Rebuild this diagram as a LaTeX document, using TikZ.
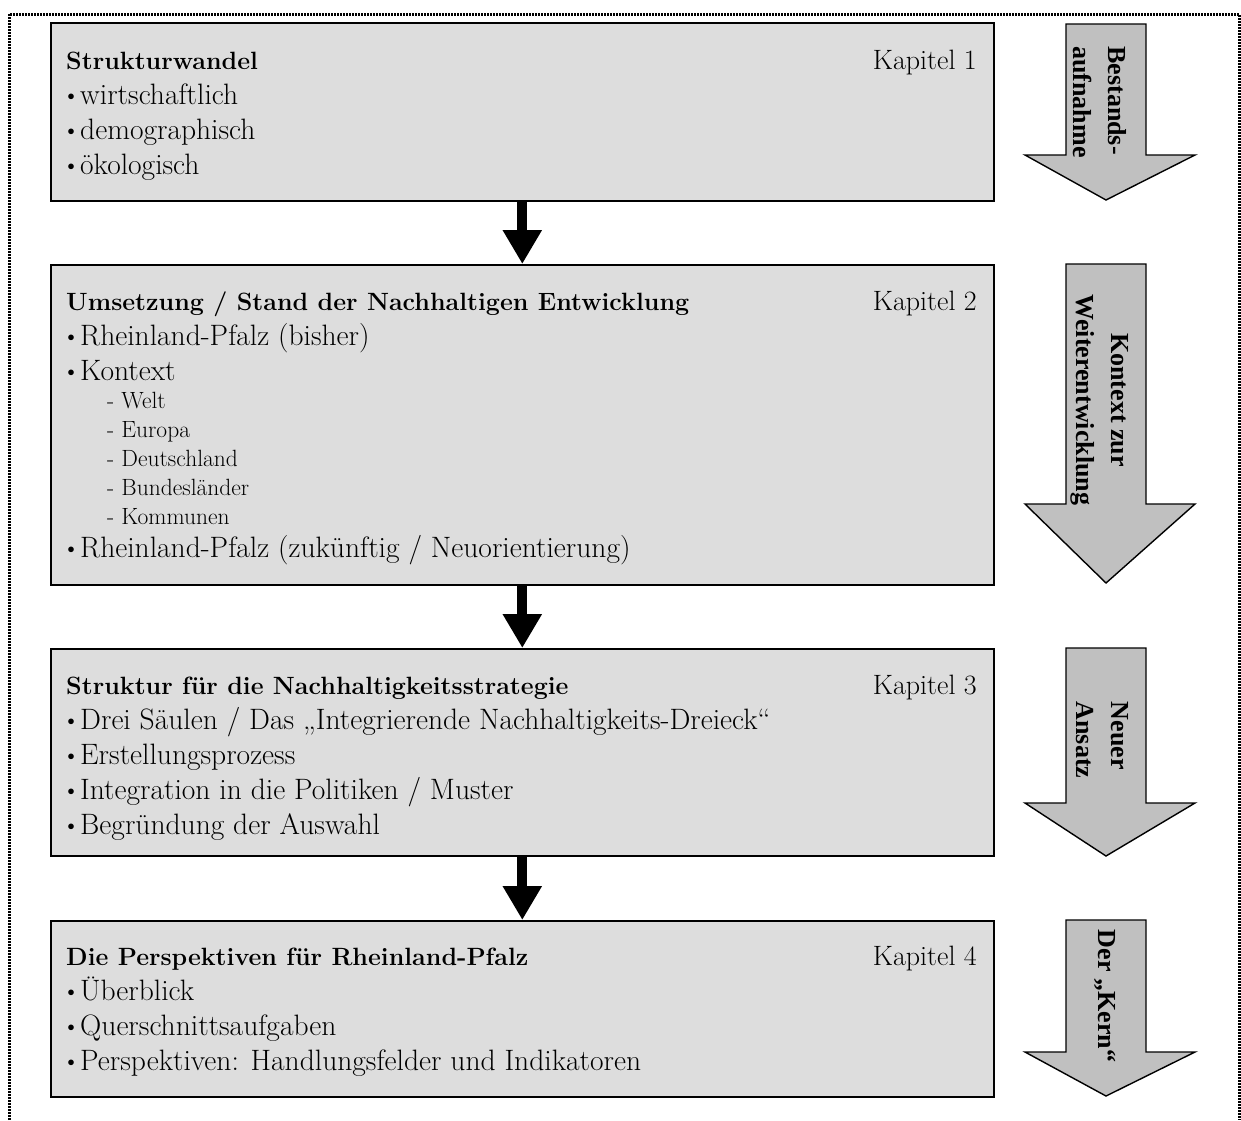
\documentclass[tikz,border=0pt]{standalone}
\usepackage{fontspec}
\newfontfamily\phasefont{Liberation Serif}
\usetikzlibrary{positioning}
\usetikzlibrary{arrows.meta}
\definecolor{boxgray}{RGB}{221,221,221}
\definecolor{phasegray}{RGB}{192,192,192}
\newcommand{\bul}{\rlap{\kern-4pt\raisebox{1pt}{\fontsize{25}{25}\selectfont•}}\kern14pt}

\begin{document}
\begin{tikzpicture}[x=1pt,y=-1pt,
	chapter/.style={draw, line width=1.6pt, fill=boxgray, anchor=north west, inner sep=0pt, minimum width=943pt},
	heading/.style={anchor=base west, inner sep=0pt, font=\fontsize{25}{30}\selectfont\bfseries},
	item/.style={anchor=base west, inner sep=0pt, font=\fontsize{29.5}{32}\selectfont},
	subitem/.style={anchor=base west, inner sep=0pt, font=\fontsize{23.5}{27}\selectfont},
	kapitel/.style={anchor=base east, inner sep=0pt, font=\fontsize{28}{30}\selectfont},
	flow/.style={line width=10pt, -{Triangle[width=37pt,length=34pt]}},
	phase/.style={draw, line width=1.4pt, fill=phasegray},
	phasetext/.style={rotate=-90, inner sep=0pt, font=\phasefont\fontsize{26}{35}\selectfont\bfseries},
	outerframe/.style={line width=3pt, dash pattern=on 2pt off 1pt}]
		\useasboundingbox (0,0) rectangle (1241,1120);
		\draw [outerframe] (9,1120) |- (1239,14) -- (1239,1120);

		% chapter boxes
		\node [chapter, minimum height=178pt] (box1) at (50,22) {};
		\node [chapter, minimum height=320pt] (box2) at (50,264) {};
		\node [chapter, minimum height=207pt] (box3) at (50,648) {};
		\node [chapter, minimum height=176pt] (box4) at (50,920) {};

		\node [heading] (head1) at (66,69) {Strukturwandel};
		\node [kapitel] (kap1) at (977,69) {Kapitel 1};
		\foreach \txt [count=\i] in {wirtschaftlich, demographisch, ökologisch}
			\node [item, name=itemA-\i] at (66,69+35*\i) {\bul\txt};

		\node [heading] (head2) at (66,310) {Umsetzung / Stand der Nachhaltigen Entwicklung};
		\node [kapitel] (kap2) at (977,310) {Kapitel 2};
		\node [item] (itemB-1) at (66,345) {\bul Rheinland-Pfalz (bisher)};
		\node [item] (itemB-2) at (66,380) {\bul Kontext};
		\foreach \txt [count=\i] in {Welt, Europa, Deutschland, Bundesländer, Kommunen}
			\node [subitem, name=sub-\i] at (107,379+29*\i) {- \txt};
		\node [item] (itemB-3) at (66,557) {\bul Rheinland-Pfalz (zukünftig / Neuorientierung)};

		\node [heading] (head3) at (66,694) {Struktur für die Nachhaltigkeitsstrategie};
		\node [kapitel] (kap3) at (977,694) {Kapitel 3};
		\foreach \txt [count=\i] in {{Drei Säulen / Das „Integrierende Nachhaltigkeits-Dreieck“}, Erstellungsprozess, {Integration in die Politiken / Muster}, {Begründung der Auswahl}}
			\node [item, name=itemC-\i] at (66,694+35*\i) {\bul\txt};

		\node [heading] (head4) at (66,965) {Die Perspektiven für Rheinland-Pfalz};
		\node [kapitel] (kap4) at (977,965) {Kapitel 4};
		\foreach \txt [count=\i] in {Überblick, Querschnittsaufgaben, {Perspektiven: Handlungsfelder und Indikatoren}}
			\node [item, name=itemD-\i] at (66,965+35*\i) {\bul\txt};

		\draw [flow] (box1.south) -- (box2.north);
		\draw [flow] (box2.south) -- (box3.north);
		\draw [flow] (box3.south) -- (box4.north);

		% phase arrows on the right
		\foreach \ytop/\yneck/\ytip in {24/155/200, 264/504/583, 648/803/856, 920/1052/1096}
			\draw [phase] (1066,\ytop) -- (1146,\ytop) -- (1146,\yneck) -- (1195,\yneck) -- (1106,\ytip) -- (1025,\yneck) -- (1066,\yneck) -- cycle;
		\node [phasetext, align=left] (phase1) at (1100,102) {Bestands-\\aufnahme};
		\node [phasetext, align=center] (phase2) at (1100,400) {Kontext zur\\Weiterentwicklung};
		\node [phasetext, align=left] (phase3) at (1102,740) {Neuer\\Ansatz};
		\node [phasetext] (phase4) at (1105,996) {Der „Kern“};
\end{tikzpicture}
\end{document}
